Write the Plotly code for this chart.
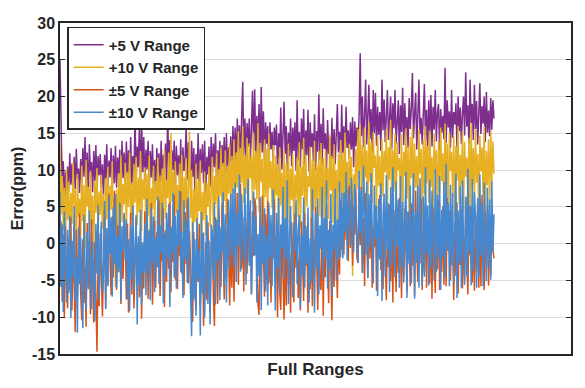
import plotly.graph_objects as go

series_names = ["+5 V Range", "+10 V Range", "±5 V Range", "±10 V Range"]
series_colors = ["#7E2F8E", "#E6B022", "#D95319", "#4688CF"]

y_ticks = [-15, -10, -5, 0, 5, 10, 15, 20, 25, 30]

plus5 = [
    25.0, 13.6, 7.9, 11.2, 6.3, 9.8, 5.4, 10.5, 7.1, 12.3, 8.0, 10.9, 6.6, 11.8, 7.4, 12.9, 8.8, 10.2, 6.9, 11.5,
    8.3, 13.0, 9.1, 14.5, 7.7, 12.4, 6.2, 13.5, 9.6, 11.1, 7.0, 12.6, 8.5, 13.4, 6.8, 11.9, 9.3, 12.2, 7.5, 10.8,
    6.4, 12.1, 8.7, 13.5, 7.2, 11.3, 9.0, 13.0, 6.9, 12.0, 8.2, 13.3, 7.6, 11.7, 9.4, 12.8, 6.5, 14.0, 8.9, 12.4,
    7.3, 13.9, 9.5, 12.7, 8.1, 14.5, 7.8, 11.9, 9.2, 17.3, 8.6, 13.2, 10.4, 16.0, 7.9, 17.0, 9.7, 14.5, 8.3, 12.8,
    10.1, 14.0, 7.4, 12.6, 9.0, 13.5, 8.0, 11.4, 6.9, 13.0, 9.8, 12.3, 7.7, 14.0, 8.5, 12.1, 10.3, 13.6, 7.2, 18.2,
    9.4, 14.1, 8.1, 12.7, 10.0, 14.0, 7.6, 13.3, 9.3, 12.0, 8.4, 14.2, 6.8, 13.1, 9.9, 11.6, 16.0, 8.7, 13.8, 10.5,
    7.9, 14.0, 9.1, 13.0, 6.6, 12.2, 8.8, 15.0, 7.3, 12.9, 9.6, 13.5, 8.2, 14.0, 6.9, 11.8, 9.4, 13.2, 7.7, 14.5,
    9.0, 13.6, 10.4, 15.0, 8.3, 12.7, 9.9, 14.0, 7.8, 13.4, 10.6, 14.5, 8.9, 15.0, 9.5, 13.1, 11.0, 14.6, 9.2, 16.0,
    11.3, 15.8, 10.2, 17.0, 12.6, 16.1, 10.8, 17.2, 22.0, 12.1, 17.0, 11.5, 16.4, 13.2, 17.0, 10.9, 15.5, 20.8, 12.7, 21.0,
    11.8, 17.4, 13.0, 19.0, 10.6, 21.3, 12.4, 18.0, 11.1, 16.5, 13.6, 16.0, 10.3, 16.5, 12.8, 15.2, 11.0, 15.8, 13.4, 16.2,
    9.7, 15.0, 11.6, 18.5, 10.1, 15.5, 19.3, 12.2, 16.0, 9.4, 15.1, 11.9, 17.0, 10.5, 15.8, 12.6, 16.5, 9.9, 19.5, 11.3,
    15.2, 10.4, 17.0, 12.8, 18.3, 10.7, 15.4, 12.0, 18.2, 9.8, 16.5, 13.1, 15.0, 11.2, 17.6, 10.0, 15.3, 12.5, 20.3, 11.4,
    16.3, 10.6, 18.4, 12.9, 15.0, 10.1, 16.8, 12.2, 14.5, 9.6, 17.1, 11.5, 15.6, 10.8, 16.0, 19.0, 12.4, 15.2, 11.0, 18.9,
    12.3, 16.0, 10.7, 18.6, 13.0, 15.4, 11.5, 16.5, 12.8, 17.2, 10.4, 16.6, 13.2, 15.8, 13.9, 17.5, 25.9, 14.6, 20.0, 13.1,
    17.4, 22.3, 13.5, 19.0, 21.6, 14.2, 18.3, 12.4, 20.9, 15.0, 20.5, 13.3, 18.6, 14.8, 17.9, 12.6, 22.3, 15.4, 19.6, 13.8,
    18.2, 20.9, 14.1, 18.0, 20.0, 12.9, 19.1, 15.7, 20.9, 13.6, 17.5, 19.5, 12.2, 18.8, 15.2, 21.2, 13.4, 19.1, 14.5, 17.2,
    13.0, 19.8, 15.6, 18.4, 23.2, 14.3, 17.6, 20.5, 12.8, 18.9, 22.3, 14.9, 17.1, 13.5, 19.5, 21.7, 14.0, 18.2, 12.7, 19.5,
    14.8, 20.2, 13.2, 18.6, 15.5, 20.9, 13.9, 17.8, 19.0, 12.6, 18.3, 15.1, 17.4, 14.2, 23.9, 13.7, 19.5, 15.8, 18.0, 13.0,
    20.9, 14.4, 17.9, 16.2, 19.1, 12.8, 20.0, 15.3, 18.5, 13.6, 17.7, 20.0, 14.7, 23.3, 15.9, 18.8, 13.4, 22.3, 16.4, 19.0,
    14.1, 21.6, 15.6, 19.4, 13.5, 18.2, 21.8, 14.9, 18.7, 16.3, 20.0, 13.8, 20.6, 15.1, 18.1, 14.6, 19.8, 15.5, 19.5, 17.0,
]

plus10 = [
    13.5, 4.0, 9.2, 1.8, 7.6, -0.9, 10.1, 3.2, 8.4, 0.5, 6.9, 2.7, 11.0, 4.8, 7.3, -2.2, 9.5, 3.6, 6.1, 1.0,
    10.6, 3.0, 8.0, -0.7, 11.4, 5.1, 7.7, 1.6, 9.9, 2.4, 6.5, -1.5, 8.6, 4.2, 10.3, 0.8, 7.1, 3.9, 9.4, 2.0,
    6.8, -2.4, 8.9, 3.3, 10.5, 0.2, 7.9, 4.6, 11.2, 2.1, 6.2, -5.9, 7.4, 1.3, 9.6, 4.0, 12.0, 2.9, 8.1, 5.3,
    11.0, 1.4, 9.7, 5.0, 12.4, 3.1, 8.3, 0.6, 10.8, 5.6, 11.8, 2.5, 9.0, 4.3, 12.6, 1.7, 8.8, 6.0, 10.4, 0.9,
    9.5, 3.8, 12.0, -0.4, 7.6, 4.7, 10.6, 1.9, 8.5, 5.9, 11.7, 2.6, 9.3, 0.3, 10.2, 4.5, 12.8, 3.4, 8.7, 6.2,
    12.4, 2.2, 15.0, 5.7, 9.8, 0.6, 11.2, 4.1, 8.0, 3.0, 10.9, 5.4, 12.1, 1.5, 9.1, 4.8, 11.6, 2.0, 7.8, 15.2,
    3.5, 10.0, -1.2, 7.4, 2.9, 10.9, 0.1, 8.6, 4.4, 11.3, -0.9, 7.0, 3.2, 9.8, 1.1, 8.2, 5.0, 10.5, 2.3, 9.1,
    11.8, 1.7, 9.2, 5.4, 12.3, 3.0, 10.1, 6.4, 13.0, 3.8, 11.0, 5.8, 12.7, 2.6, 10.6, 6.8, 13.5, 4.2, 11.9, 7.0,
    14.2, 4.6, 12.4, 7.6, 15.3, 3.8, 13.0, 8.2, 16.0, 5.5, 12.1, 6.7, 14.4, 4.1, 13.6, 8.9, 11.8, 5.2, 15.1, 7.3,
    12.6, 6.0, 16.4, 4.3, 13.7, 8.4, 11.5, 2.7, 14.2, 6.3, 12.9, 3.9, 15.0, 7.5, 11.2, 4.8, 13.4, 2.2, 12.0, 6.6,
    10.8, 1.5, 13.1, 5.2, 9.7, 3.1, 12.7, 0.9, 11.0, 4.6, 13.6, 2.8, 10.2, 5.9, 12.3, 1.6, 9.4, 6.1, 11.7, 3.6,
    13.8, 2.0, 10.5, 6.5, 14.4, 3.3, 12.1, 5.1, 9.2, 7.7, 13.2, 2.4, 11.4, 4.5, 14.0, 1.8, 10.7, 6.0, 12.6, 3.7,
    13.7, 4.4, 11.6, 1.9, 12.8, 6.1, 10.3, 3.4, 14.8, 7.2, 11.9, 2.8, 13.5, 5.6, 10.0, 3.0, 12.2, 6.9, 14.1, 4.0,
    12.4, 4.7, 15.1, 8.1, 11.1, 5.3, 13.6, 6.6, 11.8, -4.4, 9.4, 5.8, 12.9, 7.4, 15.6, 8.8, 16.2, 7.3, 13.4, 5.0,
    15.8, 9.0, 12.7, 3.9, 16.5, 8.4, 13.9, 5.5, 15.2, 10.3, 12.0, 4.4, 14.7, 7.8, 11.9, 3.0, 14.3, 6.4, 12.6, 9.7,
    15.6, 5.2, 13.1, 8.7, 16.8, 4.5, 12.8, 7.1, 15.0, 3.7, 13.8, 10.0, 11.6, 5.9, 14.8, 2.8, 12.5, 9.2, 15.7, 6.1,
    13.2, 3.8, 14.5, 8.9, 16.1, 5.3, 13.6, 7.6, 11.9, 4.8, 15.5, 9.5, 12.9, 3.4, 14.1, 6.7, 16.0, 8.2, 13.3, 5.6,
    15.4, 7.7, 11.8, 4.6, 14.9, 9.4, 12.7, 3.3, 14.0, 6.9, 15.8, 8.5, 12.3, 5.1, 16.3, 7.0, 13.6, 4.0, 15.1, 9.9,
    12.5, 6.3, 14.6, 3.6, 13.3, 8.6, 16.0, 5.4, 12.1, 7.9, 15.2, 4.3, 13.9, 9.1, 11.7, 6.2, 14.4, 3.9, 16.4, 7.4,
    13.0, 5.7, 15.5, 8.3, 12.2, 4.1, 14.7, 9.8, 13.1, 6.5, 15.9, 3.5, 12.6, 7.9, 14.2, 5.0, 15.3, 8.1, 13.9, 9.5,
]

pm5 = [
    -5.8, 3.0, -7.9, 1.2, -10.0, 2.4, -4.5, -8.8, 0.7, -6.3, 3.6, -9.1, -1.5, -5.0, -12.0, 1.9, -7.2, -2.8, 4.1, -6.6,
    -10.4, 0.6, -8.1, -3.0, -11.3, 2.8, -6.0, -1.2, -9.6, 3.3, -4.7, -10.7, 0.2, -7.4, -14.7, -2.0, -8.5, 1.4, -5.3, -9.9,
    -3.2, 4.5, -8.7, 1.0, -5.5, 6.8, -2.2, -7.0, 3.7, -4.6, 7.2, -1.1, -6.3, 2.5, -3.9, 5.6, -8.2, 0.3, -4.8, 3.9,
    0.8, -7.6, 2.7, -9.4, -1.6, 4.2, -6.9, 1.9, -8.8, -2.5, 3.5, -5.8, 0.1, -7.3, 2.0, -10.2, -0.9, -6.1, 4.4, -4.0,
    4.0, -7.5, 0.9, -4.3, 5.5, -8.3, -0.6, 3.1, -6.0, 1.6, -3.2, 5.9, -7.1, 0.4, -2.4, 4.8, -8.6, 1.8, -5.2, 2.6,
    -3.4, 5.7, -6.6, 2.0, -2.5, 6.6, -4.9, 1.3, -6.2, 3.8, -1.7, 7.1, -4.1, 0.5, -7.0, 4.3, -2.8, 6.0, -5.4, 1.7,
    -2.2, -7.8, -10.6, 1.6, -6.5, -9.0, 0.9, -5.2, 2.7, -8.4, -3.3, 1.4, -11.2, -4.6, 0.2, -7.7, 2.9, -5.9, -9.3, -1.0,
    1.8, -7.1, -11.2, 3.6, -4.0, -8.2, 4.7, -2.1, -5.9, 5.5, -1.4, -7.6, 2.3, -4.8, 6.1, -3.0, -8.4, 1.0, -6.0, 3.3,
    -7.9, 4.9, -1.0, 6.9, -5.6, 2.3, 8.1, -3.4, 3.6, -6.5, 5.4, -0.8, -4.1, 7.3, -2.5, 1.8, -6.9, 4.4, -1.7, 6.2,
    5.0, -2.4, -8.2, -9.7, 3.2, -4.3, 6.5, -1.0, -7.2, 4.0, -3.1, 5.8, -5.4, 0.7, -8.0, 2.6, -2.0, 6.0, -4.7, 1.2,
    -10.0, 1.7, -6.5, -9.0, 2.6, -4.4, -10.3, 0.5, -8.4, 3.4, -5.5, -1.4, -9.4, 2.9, -5.0, -8.0, 4.1, -3.3, 1.0, -7.4,
    -1.9, -9.1, 3.0, -5.0, -7.8, 4.2, -3.0, 1.3, -9.4, -0.4, -6.2, 3.5, -8.5, 0.6, -4.4, 5.0, -2.6, -9.0, 2.1, -5.6,
    -6.3, 3.7, -9.8, 0.9, -4.6, 5.4, -2.3, -8.1, 3.1, -3.7, -10.4, 1.6, -5.9, 4.6, -1.5, -7.4, 2.4, -4.2, 6.0, -0.8,
    4.8, -1.5, 7.0, 0.5, 5.6, -2.4, 7.9, -0.6, 6.3, -3.0, 5.1, 1.2, 7.4, -1.9, -2.6, 5.7, -0.2, 7.7, -4.0, 3.5,
    -5.8, 6.9, 0.7, -4.6, 4.1, -2.0, 6.4, -6.0, 2.2, -0.5, 5.2, -6.4, 2.9, -1.8, 6.6, -3.6, 1.5, -6.2, 4.6, -1.1,
    -7.7, 1.9, -3.2, 5.3, -5.1, 3.0, -8.0, 4.6, -2.4, -6.6, 2.3, -4.0, 6.2, -1.3, -7.4, 3.4, -4.6, 4.8, -2.0, -6.5,
    4.3, 0.6, -5.8, 5.5, -3.0, 3.7, -7.0, 7.2, -0.7, -5.2, 4.0, -2.7, 6.1, -6.3, 1.4, -3.9, 5.3, -6.0, 2.5, -1.2,
    -5.4, 2.7, -7.5, 4.9, -1.8, -6.7, 3.4, -3.5, 5.9, -6.3, 1.6, -3.8, 5.1, -5.6, 3.0, -5.8, 6.2, -1.0, 4.4, -5.0,
    3.5, -0.6, -7.7, 2.8, -4.4, 5.6, -6.8, 1.2, -2.9, 4.7, -6.1, 0.8, -4.9, 6.3, -2.2, -6.9, 3.7, -1.6, 5.0, -5.3,
    1.9, -6.4, 4.0, -3.9, 5.4, -6.0, 2.6, -5.8, 6.6, -1.4, -6.3, 4.4, -2.8, 5.2, -5.7, 2.0, -4.4, 3.6, -0.8, -2.0,
]

pm10 = [
    7.0, -5.9, 2.6, -9.3, 4.4, -3.1, -8.0, 1.9, -6.7, 3.8, -10.1, 0.4, -4.6, 5.1, -7.8, -1.9, -12.1, 2.2, -5.5, 0.9,
    -8.4, -11.5, 3.9, -3.7, -9.0, 1.6, -6.2, 4.5, -2.4, -8.9, 0.3, -5.0, -10.5, 2.7, -4.1, 5.3, -7.7, -0.6, 3.0, -6.6,
    -4.2, 5.8, -8.9, 2.1, -5.8, 6.5, -1.4, 3.6, -7.2, 4.9, -2.8, 6.8, -6.0, 1.1, -3.6, 5.5, -7.9, 2.4, -1.0, 4.2,
    -2.3, 3.3, -7.6, 0.6, -9.2, 2.4, -4.8, 5.2, -6.5, -0.6, 3.9, -11.0, 1.0, -5.7, 4.6, -8.3, 0.2, -3.9, 2.8, -7.0,
    6.1, -4.0, 1.9, -7.7, 5.0, -2.5, 3.7, -6.6, 0.8, -3.2, 6.4, -5.5, 2.5, -1.3, 5.6, -8.1, 1.4, -4.4, 4.2, -2.0,
    5.4, -8.6, 2.3, -1.3, 6.9, -4.6, 3.8, -6.1, 4.6, -0.2, 7.2, -3.9, 1.6, -7.4, 5.9, -2.1, 3.1, -5.3, 6.3, -1.1,
    -5.5, -12.6, 2.9, -7.6, 0.6, -9.8, 3.5, -4.7, -0.9, -12.5, 4.3, -6.8, 1.5, -10.0, -2.9, 3.9, -8.2, 0.4, -11.0, 2.6,
    1.4, -4.8, 5.6, -8.3, 3.2, -2.3, 6.4, -7.7, 2.3, -1.2, 7.0, -5.6, 4.0, -8.0, 1.1, 5.9, -3.4, 6.8, -1.6, 7.5,
    -3.0, 8.3, -5.2, 4.2, -0.3, 9.4, -3.8, 6.7, 1.5, -2.2, 7.6, -5.6, 3.3, 8.8, -3.0, 5.9, -6.8, 2.0, 7.1, -1.6,
    3.7, -8.0, 1.3, -4.4, 6.3, -9.0, 2.4, -2.7, 4.8, -6.5, 1.1, -8.4, 5.5, -1.9, 3.9, -5.8, 7.4, -1.1, -9.1, 4.2,
    -3.3, 6.2, -6.8, 2.6, -0.6, 7.7, -4.7, 3.5, -2.0, 8.6, -8.2, 0.9, 5.1, -3.4, -7.3, 2.8, -1.0, 6.0, -5.5, 1.7,
    3.9, -8.7, 1.2, -4.5, 6.3, -6.0, 2.4, -2.8, 4.9, -8.0, 0.7, -5.3, 7.4, -1.2, -9.4, 4.1, -3.4, 6.1, -6.9, 2.5,
    -0.7, 7.7, -4.8, 3.5, -2.0, 8.6, -6.1, 1.9, -3.5, 6.8, -7.1, 2.6, -0.9, 7.5, -5.0, 3.3, -2.2, 8.4, -1.8, 6.9,
    -2.0, 6.9, 1.6, 9.7, -2.2, 7.5, 2.7, -0.3, 9.0, 3.4, -1.2, 8.1, 4.0, 0.5, -2.6, 9.9, 1.4, 7.3, -4.0, 10.6,
    3.2, -1.5, 8.4, -4.7, 6.7, -0.5, 9.6, 2.5, -5.4, 7.9, 0.8, 5.1, -7.1, 6.1, -2.2, 8.2, -7.8, 3.9, 6.8, -4.5,
    9.3, -0.9, 5.5, -6.6, 7.7, -3.0, 10.4, 1.8, -4.6, 8.5, -0.3, 6.0, -6.0, 9.2, -3.2, 5.7, -5.3, 2.3, 9.8, -7.4,
    4.4, -2.7, 7.9, -5.4, 2.3, 9.6, -7.5, 4.3, -2.6, 7.9, -6.0, 8.9, 0.6, -5.7, 6.4, -4.5, 10.4, -1.4, 5.2, -5.7,
    8.7, -3.3, 7.2, 1.1, -5.0, 10.1, -3.9, 6.6, -2.0, 9.2, -6.3, 4.6, -1.8, 8.4, -4.6, 10.9, -1.0, 5.5, -5.8, 8.0,
    -3.0, 6.9, -5.2, 2.4, 9.5, -7.4, 4.5, -2.6, 7.9, -6.0, 8.6, 0.6, -5.6, 6.4, -4.4, 10.2, -1.3, 5.2, -5.7, 8.8,
    -3.6, 7.0, 3.8, -6.0, 6.2, -4.6, 9.4, -1.7, 5.4, -5.8, 8.3, 0.2, -5.1, 7.6, -3.2, 6.0, -4.9, 8.5, -1.2, 4.0,
]

all_series = [plus5, plus10, pm5, pm10]

fig = go.Figure()
for name, color, vals in zip(series_names, series_colors, all_series):
    fig.add_trace(go.Scatter(
        x=list(range(len(vals))), y=vals, mode="lines", name=name,
        line=dict(color=color, width=1.5),
    ))

font_family = "Liberation Sans, Arial, sans-serif"
fig.update_layout(
    width=585, height=388,
    margin=dict(l=60, r=14, t=23, b=34),
    paper_bgcolor="white", plot_bgcolor="white",
    font=dict(family=font_family, size=16, color="#262626"),
    showlegend=True,
    legend=dict(
        x=0.014, y=0.988, xanchor="left", yanchor="top",
        bgcolor="white", bordercolor="#262626", borderwidth=1.5,
        font=dict(size=15, family=font_family, color="#262626", weight="bold"),
        itemwidth=30, tracegroupgap=0,
    ),
    xaxis=dict(
        range=[0, 469.8], showticklabels=False, ticks="",
        showgrid=False, zeroline=False,
        showline=True, linecolor="#262626", linewidth=1.5, mirror=True,
        title=dict(text="<b>Full Ranges</b>", font=dict(size=17), standoff=8),
    ),
    yaxis=dict(
        range=[-15, 30], tickvals=y_ticks, ticktext=[f"<b>{v}</b>" for v in y_ticks],
        ticks="inside", ticklen=5, tickcolor="#262626", tickwidth=1,
        showgrid=True, gridcolor="#DCDCDC", gridwidth=1, zeroline=False,
        showline=True, linecolor="#262626", linewidth=1.5, mirror="ticks",
        tickfont=dict(size=16),
        title=dict(text="<b>Error(ppm)</b>", font=dict(size=16), standoff=4),
    ),
)

fig.write_html("out.html", config={"displayModeBar": False},
               post_script="document.body.style.margin='0';")
